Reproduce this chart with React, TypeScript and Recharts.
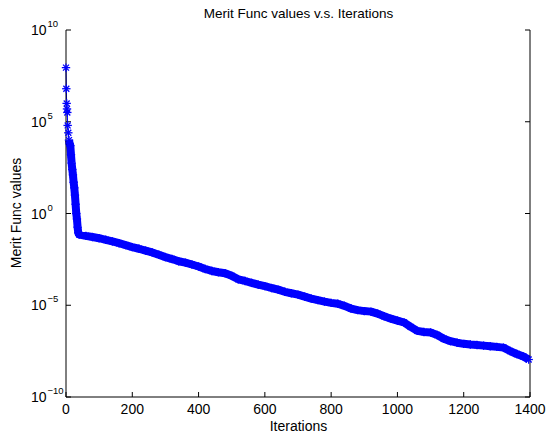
import { LineChart, Line, XAxis, YAxis } from "recharts";

// iteration index and merit function value at that iteration
const iterations = [
  0, 1, 2, 3, 4, 5, 7, 9, 11, 13, 15, 17, 19, 21, 23, 25, 27, 29, 31, 33, 35, 37, 40,
  60, 80, 100, 120, 140, 160, 180, 200, 220, 240, 260, 280, 300, 320, 340, 360, 380,
  400, 420, 440, 460, 480, 500, 520, 540, 560, 580, 600, 620, 640, 660, 680, 700,
  720, 740, 760, 780, 800, 820, 840, 860, 880, 900, 920, 940, 960, 980, 1000,
  1020, 1040, 1060, 1080, 1100, 1120, 1140, 1160, 1180, 1200, 1220, 1240, 1260,
  1280, 1300, 1320, 1340, 1360, 1380, 1396,
];

const meritValues = [
  8.9e7, 6.3e6, 1.0e6, 5.0e5, 3.2e5, 6.3e4, 2.5e4, 1.0e4, 6.3e3, 5.0e3, 1.6e3, 560, 250,
  126, 50, 25, 10, 3.2, 1.0, 0.5, 0.18, 0.089, 0.071,
  0.06, 0.052, 0.045, 0.037, 0.03, 0.024, 0.019, 0.0148, 0.012, 0.0095, 0.0076, 0.0056,
  0.0042, 0.0033, 0.0025, 0.0021, 0.00166,
  0.00129, 9.5e-4, 7.4e-4, 6.3e-4, 5.5e-4, 4.0e-4, 2.6e-4, 2.1e-4, 1.66e-4, 1.32e-4,
  1.1e-4, 8.7e-5, 7.1e-5, 5.4e-5, 4.5e-5, 3.8e-5,
  2.95e-5, 2.3e-5, 1.9e-5, 1.58e-5, 1.35e-5, 1.2e-5, 9.3e-6, 6.6e-6, 5.4e-6, 4.8e-6,
  4.5e-6, 3.5e-6, 2.5e-6, 1.86e-6, 1.45e-6,
  1.15e-6, 6.6e-7, 4.0e-7, 3.5e-7, 3.3e-7, 2.4e-7, 1.5e-7, 1.1e-7, 9.1e-8, 7.9e-8,
  7.2e-8, 6.8e-8, 6.3e-8,
  5.8e-8, 5.4e-8, 4.9e-8, 3.2e-8, 2.2e-8, 1.6e-8, 1.1e-8,
];

const xTicks = [0, 200, 400, 600, 800, 1000, 1200, 1400];
const yTicks = [1e-10, 1e-5, 1, 1e5, 1e10];

const data = iterations.map((iter, i) => ({ iter, merit: meritValues[i] }));

const FONT = '"Liberation Sans", Arial, Helvetica, sans-serif';
const BLUE = "#0000ff";

function Asterisk({ cx, cy }: { cx?: number; cy?: number }) {
  if (cx == null || cy == null) return null;
  const r = 4.2;
  const d = r * 0.7071;
  return (
    <g stroke={BLUE} strokeWidth={1.3}>
      <line x1={cx - r} y1={cy} x2={cx + r} y2={cy} />
      <line x1={cx} y1={cy - r} x2={cx} y2={cy + r} />
      <line x1={cx - d} y1={cy - d} x2={cx + d} y2={cy + d} />
      <line x1={cx - d} y1={cy + d} x2={cx + d} y2={cy - d} />
    </g>
  );
}

// "10" base right-aligned at a fixed x, exponent hanging to its right
function PowerTick({ x, y, payload }: any) {
  const exp = Math.round(Math.log10(payload.value));
  const label = exp < 0 ? `\u2212${-exp}` : String(exp);
  return (
    <g fontFamily={FONT} fill="#000">
      <text x={x - 0.5} y={y + 5} textAnchor="end" fontSize={14}>
        10
      </text>
      <text x={x + 0.5} y={y - 3} textAnchor="start" fontSize={9.5}>
        {label}
      </text>
    </g>
  );
}

const axisStroke = { stroke: "#000", strokeWidth: 1 };

const textStyle = { position: "absolute" as const, fontSize: 14, lineHeight: "16px", textAlign: "center" as const };

export default function App() {
  return (
    <div style={{ position: "absolute", left: 0, top: 0, width: 548, height: 438, background: "#fff", fontFamily: FONT }}>
      <div style={{ ...textStyle, left: 66, top: 6, width: 465, fontSize: 13.5 }}>
        Merit Func values v.s. Iterations
      </div>
      <div style={{ ...textStyle, left: 66, top: 418, width: 465 }}>Iterations</div>
      <div style={{ ...textStyle, left: 16 - 100, top: 205, width: 200, transform: "rotate(-90deg)" }}>
        Merit Func values
      </div>
      <LineChart width={548} height={438} data={data} margin={{ top: 30, right: 17, bottom: 0, left: 6 }}>
        <XAxis
          dataKey="iter"
          type="number"
          domain={[0, 1400]}
          ticks={xTicks}
          height={41}
          axisLine={axisStroke}
          tickLine={axisStroke}
          tickSize={-5}
          tickMargin={12}
          tick={{ fill: "#000", fontSize: 14, fontFamily: FONT }}
        />
        <XAxis
          xAxisId="top"
          orientation="top"
          type="number"
          domain={[0, 1400]}
          ticks={xTicks}
          height={0}
          axisLine={axisStroke}
          tickLine={axisStroke}
          tickSize={-5}
          tickFormatter={() => ""}
        />
        <YAxis
          scale="log"
          type="number"
          domain={[1e-10, 1e10]}
          ticks={yTicks}
          width={60}
          axisLine={axisStroke}
          tickLine={axisStroke}
          tickSize={-5}
          tickMargin={24}
          tick={<PowerTick />}
          allowDataOverflow
        />
        <YAxis
          yAxisId="right"
          orientation="right"
          scale="log"
          type="number"
          domain={[1e-10, 1e10]}
          ticks={yTicks}
          width={1}
          axisLine={axisStroke}
          tickLine={axisStroke}
          tickSize={-5}
          tickFormatter={() => ""}
          allowDataOverflow
        />
        {/* dense run of markers after the initial drop reads as a solid band */}
        <Line
          dataKey={(d: { iter: number; merit: number }) => (d.iter >= 9 ? d.merit : null)}
          stroke={BLUE}
          strokeWidth={8}
          strokeLinejoin="round"
          dot={false}
          activeDot={false}
          isAnimationActive={false}
        />
        <Line
          dataKey="merit"
          stroke={BLUE}
          strokeWidth={1}
          dot={(p: any) => <Asterisk key={`m${p.index}`} cx={p.cx} cy={p.cy} />}
          activeDot={false}
          isAnimationActive={false}
        />
      </LineChart>
    </div>
  );
}
